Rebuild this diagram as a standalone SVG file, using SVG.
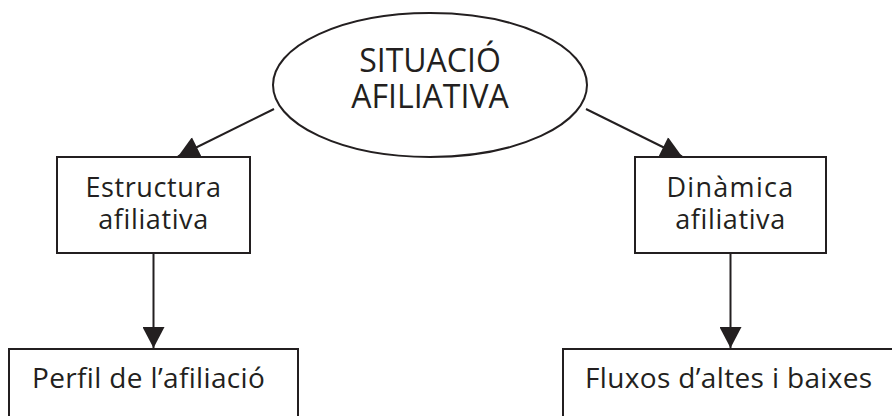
<svg xmlns="http://www.w3.org/2000/svg" width="892" height="416" viewBox="0 0 892 416">
<style>
.shape{fill:#fff;stroke:#231f20;stroke-width:2}
.conn{fill:none;stroke:#231f20;stroke-width:2}
.t{font-family:"Open Sans","Noto Sans","Liberation Sans",sans-serif;fill:#231f20;text-anchor:middle;font-variant-ligatures:none}
.m{font-size:27px;letter-spacing:0.6px}
.b{font-size:28px;text-anchor:start;letter-spacing:0.35px}
.e{font-size:32px}
.w{letter-spacing:1.3px}
</style>
<defs>
<marker id="arr" markerUnits="userSpaceOnUse" markerWidth="22" markerHeight="22" viewBox="0 0 20 21" refX="20" refY="10.5" orient="auto">
<path d="M0,0 L20,10.5 L0,21 Z" fill="#231f20"/>
</marker>
</defs>
<rect width="892" height="416" fill="#fff"/>
<g id="connectors">
<line class="conn" x1="274" y1="109" x2="178" y2="156.5" marker-end="url(#arr)"/>
<line class="conn" x1="586" y1="109" x2="682" y2="156.5" marker-end="url(#arr)"/>
<line class="conn" x1="153.5" y1="253" x2="153.5" y2="348" marker-end="url(#arr)"/>
<line class="conn" x1="730.5" y1="253" x2="730.5" y2="348" marker-end="url(#arr)"/>
</g>
<g id="situacio">
<ellipse class="shape" cx="430" cy="85" rx="157" ry="72"/>
<text class="t e"><tspan x="430" y="72">SITUACIÓ</tspan><tspan x="430" y="108">AFILIATIVA</tspan></text>
</g>
<g id="estructura">
<rect class="shape" x="57" y="157" width="193" height="96"/>
<text class="t m"><tspan x="153.5" y="197">Estructura</tspan><tspan x="153.5" y="229">afiliativa</tspan></text>
</g>
<g id="dinamica">
<rect class="shape" x="635" y="157" width="191" height="96"/>
<text class="t m"><tspan class="w" x="730.5" y="197">Dinàmica</tspan><tspan x="730.5" y="229">afiliativa</tspan></text>
</g>
<g id="perfil">
<rect class="shape" x="9" y="349" width="289" height="80"/>
<text class="t b" x="32" y="388">Perfil de l’afiliació</text>
</g>
<g id="fluxos">
<rect class="shape" x="563" y="349" width="340" height="80"/>
<text class="t b" x="585" y="388">Fluxos d’altes i baixes</text>
</g>
</svg>
